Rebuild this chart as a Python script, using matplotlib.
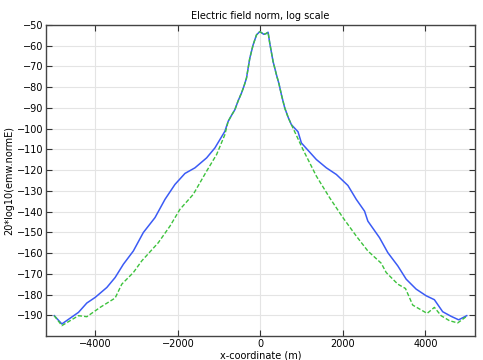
import matplotlib.pyplot as plt

# center part shared by both curves
x_mid = [-784, -700, -622, -540, -460, -400, -339, -259, -179, -97, -17, 30, 80, 130, 184, 225, 305, 387, 450, 508, 588, 670, 750]
y_mid = [-96.5, -93.5, -90.9, -86.5, -82.8, -79.5, -75.6, -66.0, -59.6, -54.8, -53.2, -53.8, -54.5, -54.2, -53.5, -58.8, -67.6, -74.0, -78.5, -83.7, -90.0, -94.5, -98.1]

x_blue_l = [-5000, -4815, -4412, -4210, -4008, -3725, -3524, -3324, -3082, -2840, -2557, -2315, -2073, -1831, -1589, -1306, -1105, -864]
y_blue_l = [-190.2, -194.2, -188.6, -184.1, -181.4, -176.6, -171.8, -165.4, -159.0, -150.1, -142.9, -134.1, -126.9, -121.6, -118.9, -114.1, -109.3, -101.3]
x_blue_r = [910, 992, 1355, 1597, 1839, 2119, 2322, 2523, 2603, 2886, 3087, 3329, 3532, 3774, 4016, 4216, 4417, 4620, 4804, 5000]
y_blue_r = [-101.5, -106.9, -114.9, -118.9, -122.1, -127.4, -134.1, -139.8, -144.6, -152.6, -159.8, -166.2, -172.6, -177.4, -180.6, -182.5, -188.3, -190.5, -192.2, -190.2]

x_green_l = [-5000, -4815, -4412, -4210, -3887, -3524, -3362, -3082, -2879, -2477, -2194, -1952, -1630, -1306, -1064, -864]
y_green_l = [-190.2, -195.0, -190.2, -190.7, -186.2, -181.7, -175.0, -169.4, -163.8, -155.0, -147.0, -138.9, -131.7, -120.5, -112.5, -102.9]
x_green_r = [1031, 1355, 1676, 1998, 2322, 2603, 2927, 3048, 3329, 3515, 3691, 4040, 4216, 4378, 4579, 4780, 5000]
y_green_r = [-110.1, -122.9, -133.3, -142.9, -151.8, -159.0, -164.9, -169.4, -175.0, -177.1, -185.1, -189.1, -186.2, -190.2, -192.6, -193.7, -190.5]

x_blue = x_blue_l + x_mid + x_blue_r
y_blue = y_blue_l + y_mid + y_blue_r
x_green = x_green_l + x_mid + x_green_r
y_green = y_green_l + y_mid + y_green_r

fig = plt.figure(figsize=(4.83, 3.6), dpi=100)
ax = fig.add_axes([0.0952, 0.0667, 0.8882, 0.8639])

ax.plot(x_blue, y_blue, color='#3b5bf5', linewidth=1.1)
ax.plot(x_green, y_green, color='#3dc23d', linewidth=1.0, linestyle='--', dashes=(3, 1.5))

ax.set_xlim(-5200, 5200)
ax.set_ylim(-200, -50)
ax.set_xticks([-4000, -2000, 0, 2000, 4000])
ax.set_yticks(range(-190, -49, 10))
ax.grid(True, color='#e4e4e4', linewidth=0.8)
ax.set_axisbelow(True)
ax.tick_params(direction='in', top=True, right=True, labelsize=7, length=4, color='#333333', pad=2)
for s in ax.spines.values():
    s.set_color('#444444')
    s.set_linewidth(1.0)

ax.set_title('Electric field norm, log scale', fontsize=7, pad=4)
ax.set_xlabel('x-coordinate (m)', fontsize=7, labelpad=1)
ax.set_ylabel('20*log10(emw.normE)', fontsize=7, labelpad=2)

fig.savefig('out.png', dpi=100)
